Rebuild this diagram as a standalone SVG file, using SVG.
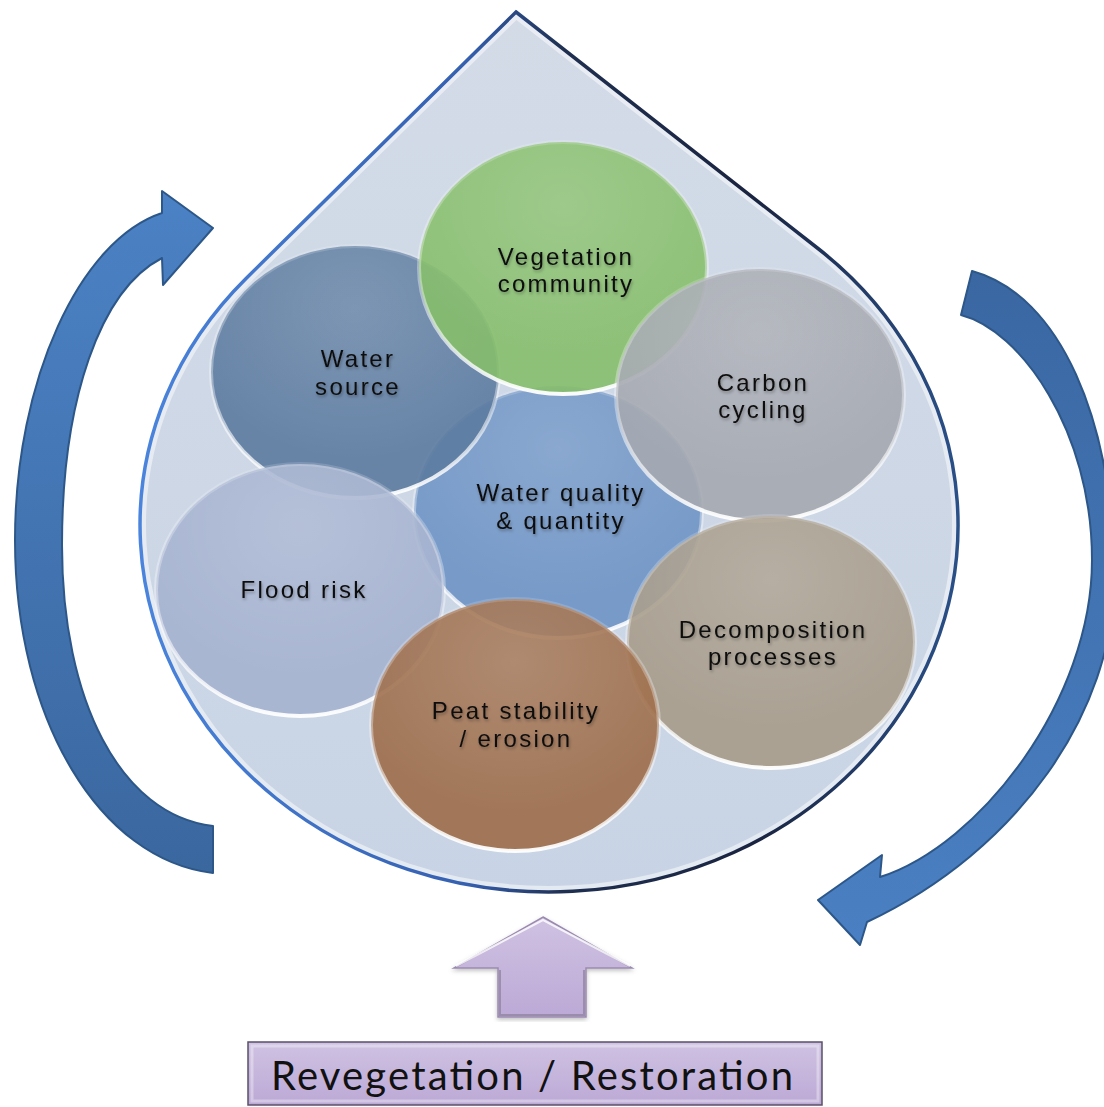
<svg xmlns="http://www.w3.org/2000/svg" width="1104" height="1107" viewBox="0 0 1104 1107">
  <defs>
    <linearGradient id="dropStroke" gradientUnits="userSpaceOnUse" x1="140" y1="0" x2="958" y2="0">
      <stop offset="0" stop-color="#4a84dc"/>
      <stop offset="0.4" stop-color="#3560b0"/>
      <stop offset="0.52" stop-color="#1f2f50"/>
      <stop offset="0.75" stop-color="#1a2440"/>
      <stop offset="1" stop-color="#2a5088"/>
    </linearGradient>
    <linearGradient id="dropFill" x1="0" y1="0" x2="0" y2="1">
      <stop offset="0" stop-color="#d3dbe7"/>
      <stop offset="1" stop-color="#c8d4e5"/>
    </linearGradient>
    <clipPath id="dropClip">
      <path d="M 516 12 L 818 248.5 A 409 367 0 1 1 246.3 278.2 Z"/>
    </clipPath>
    <linearGradient id="rim" x1="0" y1="0" x2="0" y2="1">
      <stop offset="0" stop-color="#ffffff" stop-opacity="0.15"/>
      <stop offset="0.6" stop-color="#ffffff" stop-opacity="0.4"/>
      <stop offset="1" stop-color="#ffffff" stop-opacity="0.95"/>
    </linearGradient>
    <radialGradient id="gloss" cx="0.5" cy="0.25" r="0.6">
      <stop offset="0" stop-color="#ffffff" stop-opacity="0.14"/>
      <stop offset="1" stop-color="#ffffff" stop-opacity="0"/>
    </radialGradient>
    <linearGradient id="leftArrow" x1="0" y1="0" x2="0" y2="1">
      <stop offset="0" stop-color="#4b82c5"/>
      <stop offset="1" stop-color="#3b679f"/>
    </linearGradient>
    <linearGradient id="rightArrow" x1="0" y1="0" x2="0" y2="1">
      <stop offset="0" stop-color="#3a67a2"/>
      <stop offset="1" stop-color="#4a80c3"/>
    </linearGradient>
    <linearGradient id="purple" x1="0" y1="0" x2="0" y2="1">
      <stop offset="0" stop-color="#cfc2e2"/>
      <stop offset="1" stop-color="#bca9d6"/>
    </linearGradient>
    <filter id="txtShadow" x="-10%" y="-30%" width="120%" height="160%">
      <feDropShadow dx="1" dy="2" stdDeviation="1.5" flood-color="#000000" flood-opacity="0.3"/>
    </filter>
    <filter id="soft" x="-5%" y="-5%" width="110%" height="110%">
      <feDropShadow dx="0" dy="2" stdDeviation="2" flood-color="#000000" flood-opacity="0.25"/>
    </filter>
  </defs>
  <style>
    .bubble { fill-opacity: 0.9; stroke: url(#rim); stroke-width: 4; }
    .gl { fill: url(#gloss); stroke: none; }
    .lbl { font-family: "Liberation Sans", Arial, sans-serif; font-size: 24px; letter-spacing: 2.3px; fill: #111111; text-anchor: middle; filter: url(#txtShadow); }
    .arrow { stroke: #2c5788; stroke-width: 2; stroke-linejoin: round; }
  </style>

  <g id="drop">
    <path d="M 516 12 L 818 248.5 A 409 367 0 1 1 246.3 278.2 Z" fill="url(#dropFill)"/>
    <path d="M 516 12 L 818 248.5 A 409 367 0 1 1 246.3 278.2 Z" fill="none" stroke="#ffffff" stroke-opacity="0.5" stroke-width="12" clip-path="url(#dropClip)"/>
    <path d="M 516 12 L 818 248.5 A 409 367 0 1 1 246.3 278.2 Z" fill="none" stroke="url(#dropStroke)" stroke-width="3.5" stroke-linejoin="miter"/>
  </g>

  <g id="connectors">
    <path id="left-arrow" class="arrow" fill="url(#leftArrow)" d="M 213 826 C 120 815 62 700 62 545 C 62 400 100 290 162 258 L 163 285 L 213 228 L 162 191 L 162 213 C 80 240 15 380 15 540 C 15 720 100 860 213 873 Z"/>
    <path id="right-arrow" class="arrow" fill="url(#rightArrow)" d="M 972 271 C 1060 295 1114 420 1114 580 C 1114 710 1020 850 867 922 L 860 945 L 818 900 L 882 855 L 880 877 C 980 845 1092 700 1092 560 C 1092 430 1020 330 961 315 Z"/>
    <g id="up-arrow" filter="url(#soft)">
      <path fill="url(#purple)" stroke="#9a8ab0" stroke-width="1.5" d="M 543 917 L 632 968 L 586 968 L 586 1017 L 498 1017 L 498 968 L 454 968 Z"/>
      <path fill="none" stroke="#ffffff" stroke-opacity="0.8" stroke-width="2" d="M 456 966 L 543 920 L 630 966"/>
      <path fill="none" stroke="#8c8098" stroke-opacity="0.7" stroke-width="2" d="M 500 970 L 500 1015 L 584 1015 L 584 970"/>
    </g>
  </g>

  <g id="water-quality">
    <ellipse class="bubble" cx="558" cy="512" rx="144" ry="126" fill="#6e94c4"/>
    <ellipse class="gl" cx="558" cy="512" rx="144" ry="126"/>
  </g>
  <g id="water-source">
    <ellipse class="bubble" cx="355" cy="372" rx="144" ry="126" fill="#5c7ba0"/>
    <ellipse class="gl" cx="355" cy="372" rx="144" ry="126"/>
  </g>
  <g id="flood-risk">
    <ellipse class="bubble" cx="300" cy="590" rx="144" ry="126" fill="#a5b2cf"/>
    <ellipse class="gl" cx="300" cy="590" rx="144" ry="126"/>
  </g>
  <g id="vegetation">
    <ellipse class="bubble" cx="563" cy="268" rx="144" ry="126" fill="#86be6b"/>
    <ellipse class="gl" cx="563" cy="268" rx="144" ry="126"/>
  </g>
  <g id="carbon">
    <ellipse class="bubble" cx="760" cy="395" rx="144" ry="126" fill="#a5a8b0"/>
    <ellipse class="gl" cx="760" cy="395" rx="144" ry="126"/>
  </g>
  <g id="decomposition">
    <ellipse class="bubble" cx="771" cy="642" rx="144" ry="126" fill="#a69b8a"/>
    <ellipse class="gl" cx="771" cy="642" rx="144" ry="126"/>
  </g>
  <g id="peat">
    <ellipse class="bubble" cx="515" cy="725" rx="144" ry="126" fill="#9d6d49"/>
    <ellipse class="gl" cx="515" cy="725" rx="144" ry="126"/>
  </g>

  <g id="labels">
    <text class="lbl" x="566" y="265">Vegetation</text>
    <text class="lbl" x="566" y="292">community</text>
    <text class="lbl" x="358" y="367">Water</text>
    <text class="lbl" x="358" y="395">source</text>
    <text class="lbl" x="763" y="391">Carbon</text>
    <text class="lbl" x="763" y="418">cycling</text>
    <text class="lbl" x="561" y="501">Water quality</text>
    <text class="lbl" x="561" y="529">&amp; quantity</text>
    <text class="lbl" x="304" y="598">Flood risk</text>
    <text class="lbl" x="773" y="638">Decomposition</text>
    <text class="lbl" x="773" y="665">processes</text>
    <text class="lbl" x="516" y="719">Peat stability</text>
    <text class="lbl" x="516" y="747">/ erosion</text>
  </g>

  <g id="restoration">
    <rect x="248" y="1042" width="574" height="63" fill="url(#purple)" stroke="#5a5068" stroke-width="1.5"/>
    <rect x="252" y="1046" width="566" height="55" fill="none" stroke="#ffffff" stroke-opacity="0.35" stroke-width="3"/>
    <text x="532" y="1090" font-family="Lato, 'Open Sans', sans-serif" font-size="40" fill="#111111" text-anchor="middle" textLength="522" lengthAdjust="spacing">Revegetation / Restoration</text>
  </g>
</svg>
